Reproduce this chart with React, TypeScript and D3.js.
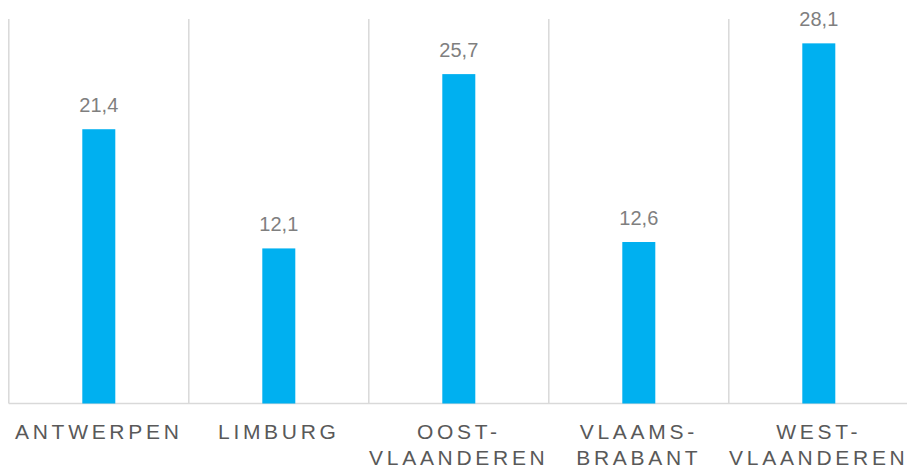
import React from "react";
import * as d3 from "d3";

const categories = ["ANTWERPEN", "LIMBURG", "OOST-VLAANDEREN", "VLAAMS-BRABANT", "WEST-VLAANDEREN"];
const values = [21.4, 12.1, 25.7, 12.6, 28.1];
const valueLabels = ["21,4", "12,1", "25,7", "12,6", "28,1"];

const W = 907;
const H = 471;

export default function App() {
  const x = d3.scaleBand<string>().domain(categories).range([8.8, 8.8 + 5 * 180]).padding(0);
  const y = d3.scaleLinear().domain([0, 30]).range([403.5, 19]);
  const barW = 33;
  const font = "'Liberation Sans', Arial, Helvetica, sans-serif";
  const ls = 3.7;

  const splitLabel = (s: string) => {
    const i = s.indexOf("-");
    return i >= 0 ? [s.slice(0, i + 1), s.slice(i + 1)] : [s];
  };

  return (
    <svg width={W} height={H} style={{ position: "absolute", left: 0, top: 0 }}>
      <rect x={0} y={0} width={W} height={H} fill="#ffffff" />
      {categories.map((c) => (
        <line key={"g" + c} x1={x(c)!} x2={x(c)!} y1={y(30)} y2={y(0)} stroke="#d9d9d9" strokeWidth={1.5} />
      ))}
      <line x1={x(categories[0])!} x2={W} y1={y(0)} y2={y(0)} stroke="#d9d9d9" strokeWidth={1.5} />
      {categories.map((c, i) => {
        const cx = x(c)! + x.bandwidth() / 2;
        return (
          <g key={c}>
            <rect x={cx - barW / 2} y={y(values[i])} width={barW} height={y(0) - y(values[i])} fill="#00b0f0" />
            <text x={cx} y={y(values[i]) - 17} textAnchor="middle" fontFamily={font} fontSize={20} fill="#7f7f7f">
              {valueLabels[i]}
            </text>
            {splitLabel(c).map((line, j) => (
              <text
                key={j}
                x={cx}
                y={439 + j * 26}
                textAnchor="middle"
                fontFamily={font}
                fontSize={21}
                letterSpacing={ls}
                fill="#595959"
              >
                {line}
              </text>
            ))}
          </g>
        );
      })}
    </svg>
  );
}
